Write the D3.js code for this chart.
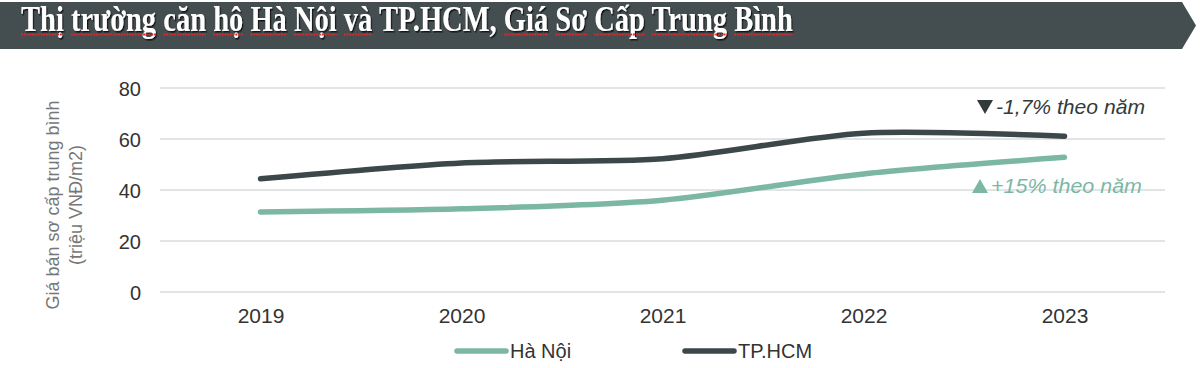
<!DOCTYPE html>
<html>
<head>
<meta charset="utf-8">
<script src="https://cdn.jsdelivr.net/npm/d3@7"></script>
<style>
  html, body { margin: 0; padding: 0; background: #ffffff; }
  svg { display: block; }
</style>
</head>
<body>
<svg id="chart" width="1200" height="368"></svg>
<script>
// ---- data ----
const title = "Thị trường căn hộ Hà Nội và TP.HCM, Giá Sơ Cấp Trung Bình";
const underlinedWords = ["Thị","trường","căn","hộ","Hà","Nội","và","Giá","Sơ","Cấp","Trung","Bình"];
const years = ["2019", "2020", "2021", "2022", "2023"];
const haNoi = [31.4, 32.6, 36.0, 46.3, 52.8];
const hcm = [44.4, 50.6, 52.3, 62.3, 61.1];
const yTicks = [0, 20, 40, 60, 80];
const seriesNames = ["Hà Nội", "TP.HCM"];
const yTitleLines = ["Giá bán sơ cấp trung bình", "(triệu VNĐ/m2)"];
const noteHcm = "-1,7% theo năm";
const noteHn = "+15% theo năm";

// ---- setup ----
const svg = d3.select("#chart");
const colHN = "#7cb7a6";
const colHCM = "#3c474a";

// banner
const bannerPts = [[0,2],[1182,2],[1196,25.5],[1182,49],[0,49]];
svg.append("polygon")
  .attr("points", bannerPts.map(p => p.join(",")).join(" "))
  .attr("fill", "#444e51");

const defs = svg.append("defs");
const f = defs.append("filter").attr("id", "shadow").attr("x", "-5%").attr("y", "-30%").attr("width", "110%").attr("height", "160%");
f.append("feDropShadow").attr("dx", 1.5).attr("dy", 1.5).attr("stdDeviation", 0.6).attr("flood-color", "#111").attr("flood-opacity", 0.9);

const titleG = svg.append("g");
const titleText = titleG.append("text")
  .attr("x", 0).attr("y", 0)
  .attr("font-family", "'Liberation Serif', 'Times New Roman', serif")
  .attr("font-weight", "bold")
  .attr("font-size", 36)
  .attr("fill", "#ffffff")
  .attr("filter", "url(#shadow)")
  .text(title);
const natW = titleText.node().getComputedTextLength();
const targetW = 772;
const sx = targetW / natW;
titleG.attr("transform", `translate(21,31) scale(${sx},1)`);

// red spellcheck underlines
let idx = 0;
title.split(" ").forEach(w => {
  const start = title.indexOf(w, idx);
  idx = start + w.length;
  if (!underlinedWords.includes(w)) return;
  const n = titleText.node();
  const x0 = n.getSubStringLength(0, start);
  const wl = n.getSubStringLength(start, w.length);
  titleG.append("line")
    .attr("x1", x0).attr("x2", x0 + wl)
    .attr("y1", 3.5).attr("y2", 3.5)
    .attr("stroke", "#d02a2c")
    .attr("stroke-width", 2)
    .attr("stroke-dasharray", "2.5,1");
});

// scales
const x = d3.scalePoint().domain(years).range([160, 1165]).padding(0.5);
const y = d3.scaleLinear().domain([0, 80]).range([292, 88]);

// gridlines
svg.append("g").selectAll("line").data(yTicks).join("line")
  .attr("x1", 160).attr("x2", 1165)
  .attr("y1", d => y(d)).attr("y2", d => y(d))
  .attr("stroke", "#d9dcdc").attr("stroke-width", 1.5);

// y axis labels
const yAxis = svg.append("g").attr("transform", "translate(141,0)")
  .call(d3.axisLeft(y).tickValues(yTicks).tickSize(0).tickPadding(0));
yAxis.select(".domain").remove();
yAxis.selectAll("text")
  .attr("font-family", "Arial, 'Liberation Sans', sans-serif")
  .attr("font-size", 20).attr("fill", "#333").attr("dy", "0.35em");

// x axis labels
const xAxis = svg.append("g").attr("transform", "translate(0,308)")
  .call(d3.axisBottom(x).tickSize(0).tickPadding(0));
xAxis.select(".domain").remove();
xAxis.selectAll("text")
  .attr("font-family", "Arial, 'Liberation Sans', sans-serif")
  .attr("font-size", 21).attr("fill", "#333").attr("dy", "0.71em");

// y title
const yt = svg.append("text")
  .attr("transform", "translate(59,205) rotate(-90)")
  .attr("text-anchor", "middle")
  .attr("font-family", "Arial, 'Liberation Sans', sans-serif")
  .attr("font-size", 18).attr("fill", "#777");
yTitleLines.forEach((t, i) => {
  yt.append("tspan").attr("x", 0).attr("dy", i === 0 ? 0 : 23).text(t);
});

// lines
const line = d3.line()
  .x((d, i) => x(years[i]))
  .y(d => y(d))
  .curve(d3.curveCardinal.tension(0.2));

svg.append("path").datum(haNoi)
  .attr("d", line).attr("fill", "none")
  .attr("stroke", colHN).attr("stroke-width", 5.5).attr("stroke-linecap", "round");
svg.append("path").datum(hcm)
  .attr("d", line).attr("fill", "none")
  .attr("stroke", colHCM).attr("stroke-width", 5.5).attr("stroke-linecap", "round");

// annotations
function note(xTri, yBase, up, text, color, textW) {
  const s = 16, h = 14;
  const pts = up
    ? [[xTri, yBase], [xTri + s, yBase], [xTri + s/2, yBase - h]]
    : [[xTri, yBase - h], [xTri + s, yBase - h], [xTri + s/2, yBase]];
  svg.append("polygon").attr("points", pts.map(p => p.join(",")).join(" ")).attr("fill", color);
  svg.append("text")
    .attr("x", xTri + s + 3).attr("y", yBase)
    .attr("font-family", "Arial, 'Liberation Sans', sans-serif")
    .attr("font-style", "italic")
    .attr("font-size", 21)
    .attr("fill", color)
    .attr("textLength", textW).attr("lengthAdjust", "spacingAndGlyphs")
    .text(text);
}
note(977, 114, false, noteHcm, "#333a3c", 149);
note(972, 193, true, noteHn, colHN, 151);

// legend
const legend = svg.append("g");
const legX = [457, 685];
const legColors = [colHN, colHCM];
seriesNames.forEach((n, i) => {
  legend.append("line")
    .attr("x1", legX[i]).attr("x2", legX[i] + 49)
    .attr("y1", 351).attr("y2", 351)
    .attr("stroke", legColors[i]).attr("stroke-width", 5.5).attr("stroke-linecap", "round");
  legend.append("text")
    .attr("x", legX[i] + 53).attr("y", 358)
    .attr("font-family", "Arial, 'Liberation Sans', sans-serif")
    .attr("font-size", 20).attr("fill", "#333")
    .text(n);
});
</script>
</body>
</html>
